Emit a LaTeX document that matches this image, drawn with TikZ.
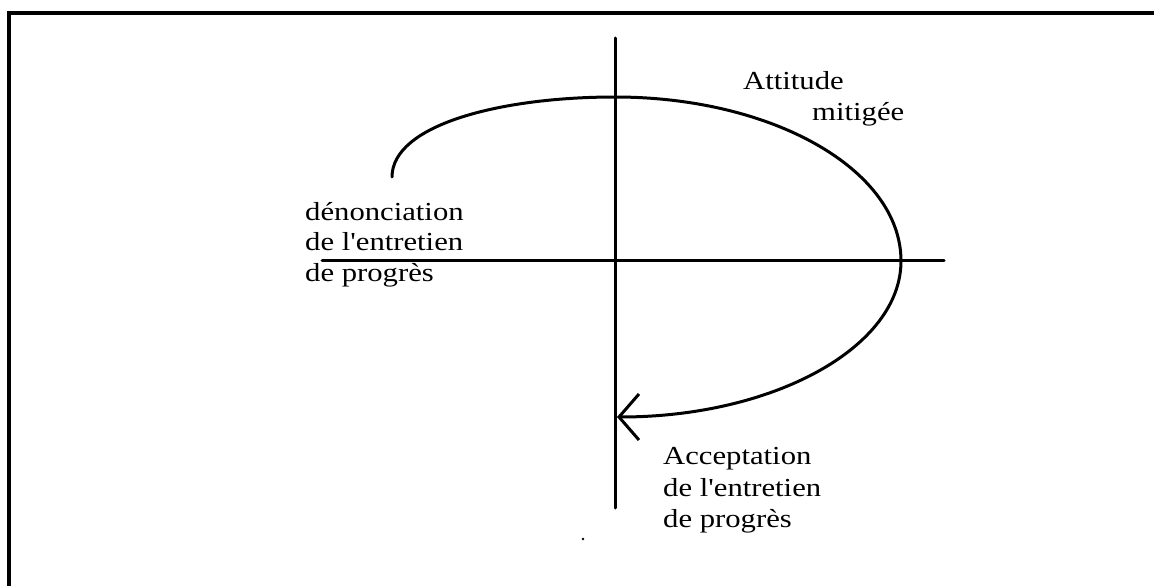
\documentclass[tikz,border=0pt]{standalone}
\usepackage{fontspec}
\setmainfont{Liberation Serif}[Ligatures=TeXOff]
\usetikzlibrary{arrows.meta}
\newcommand{\wtxt}[1]{\scalebox{1.18}[1]{#1}}
\tikzset{
  thick line/.style={line width=3pt, line cap=round},
  lbl/.style={inner sep=0pt, anchor=base west, font=\fontsize{26}{30}\selectfont}
}
\begin{document}
\begin{tikzpicture}[x=1pt,y=-1pt]
\useasboundingbox (0,0) rectangle (1154,586);
% frame (only top and left edges visible)
\draw[line width=3.5pt] (9,586) -- (9,13) -- (1154,13);
% axes
\coordinate (vtop) at (615,38);
\coordinate (vbot) at (615,508);
\coordinate (hl) at (322,260);
\coordinate (hr) at (944,260);
\draw[thick line] (vtop) -- (vbot);
\draw[thick line] (hl) -- (hr);
% spiral curve
\coordinate (S) at (392,177);
\coordinate (T) at (615,97);
\coordinate (R) at (901,261);
\coordinate (B) at (617,417);
\draw[thick line, -{Straight Barb[length=20pt,width=46pt,line width=3pt]}]
  (S) .. controls (392,125) and (500,97) .. (T)
      .. controls (773,97) and (901,170) .. (R)
      .. controls (901,347) and (774,417) .. (B);
% small speck
\fill (583,539) circle (1.3pt);
% labels
\node[lbl] (att1) at (743,89) {\wtxt{Attitude}};
\node[lbl] (att2) at (812,121) {\wtxt{mitigée}};
\node[lbl] (den1) at (305,220) {\wtxt{dénonciation}};
\node[lbl] (den2) at (305,250) {\wtxt{de l'entretien}};
\node[lbl] (den3) at (305,281) {\wtxt{de progrès}};
\node[lbl] (acc1) at (663,464) {\wtxt{Acceptation}};
\node[lbl] (acc2) at (663,496) {\wtxt{de l'entretien}};
\node[lbl] (acc3) at (663,527) {\wtxt{de progrès}};
\end{tikzpicture}
\end{document}
